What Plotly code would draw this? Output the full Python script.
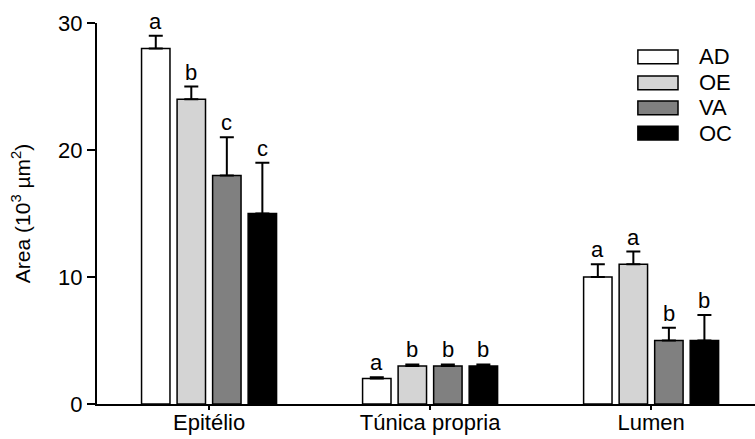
import plotly.graph_objects as go

categories = ["Epitélio", "Túnica propria", "Lumen"]
series = ["AD", "OE", "VA", "OC"]
colors = ["#ffffff", "#d4d4d4", "#808080", "#000000"]
values = {
    "AD": [28, 2, 10],
    "OE": [24, 3, 11],
    "VA": [18, 3, 5],
    "OC": [15, 3, 5],
}
errors = {
    "AD": [1, 0.1, 1],
    "OE": [1, 0.12, 1],
    "VA": [3, 0.12, 1],
    "OC": [4, 0.12, 2],
}
letters = {
    "AD": ["a", "a", "a"],
    "OE": ["b", "b", "a"],
    "VA": ["c", "b", "b"],
    "OC": ["c", "b", "b"],
}

FONT = "Liberation Sans, Arial, sans-serif"
bargap = 0.357
bargroupgap = 0.2

fig = go.Figure()
for s, c in zip(series, colors):
    fig.add_trace(go.Bar(
        x=categories, y=values[s], name=s,
        marker=dict(color=c, line=dict(color="black", width=1.5)),
        error_y=dict(type="data", array=errors[s], arrayminus=[0] * 3,
                     symmetric=False, color="black", thickness=2, width=7),
        showlegend=False,
    ))

# letters above error bars
groupw = 1 - bargap
slot = groupw / len(series)
ann = []
for i, s in enumerate(series):
    off = -groupw / 2 + (i + 0.5) * slot
    for j, cat in enumerate(categories):
        ann.append(dict(x=j + off, y=values[s][j] + errors[s][j], xref="x", yref="y",
                        text=letters[s][j], showarrow=False, yanchor="bottom", yshift=0,
                        font=dict(family=FONT, size=22, color="black")))

# custom legend
shapes = []
lx0, lx1 = 0.822, 0.883
ly = [0.911, 0.843, 0.777, 0.711]
for k, (s, c) in enumerate(zip(series, colors)):
    shapes.append(dict(type="rect", xref="paper", yref="paper",
                       x0=lx0, x1=lx1, y0=ly[k] - 0.018, y1=ly[k] + 0.018,
                       fillcolor=c, line=dict(color="black", width=1.5)))
    ann.append(dict(x=0.912, y=ly[k], xref="paper", yref="paper", text=s,
                    showarrow=False, xanchor="left", yanchor="middle",
                    font=dict(family=FONT, size=22, color="black")))

fig.update_layout(
    width=755, height=439,
    margin=dict(l=97, r=0, t=23, b=35),
    paper_bgcolor="white", plot_bgcolor="white",
    barmode="group", bargap=bargap, bargroupgap=bargroupgap,
    font=dict(family=FONT, size=16, color="black"),
    annotations=ann, shapes=shapes,
    xaxis=dict(type="category", range=[-0.507, 2.47], showline=True, linecolor="black",
               linewidth=2, ticks="outside", ticklen=4, tickwidth=1.5, tickcolor="black",
               tickfont=dict(family=FONT, size=22), showgrid=False, zeroline=False,
               automargin=False, ticklabelstandoff=-6),
    yaxis=dict(range=[0, 30], tickvals=[0, 10, 20, 30], showline=True, linecolor="black",
               linewidth=2, ticks="outside", ticklen=8, tickwidth=2, tickcolor="black",
               tickfont=dict(family=FONT, size=22), showgrid=False, zeroline=False,
               automargin=False,
               title=dict(text="Area (10<sup>3</sup> µm<sup>2</sup>)",
                          font=dict(family=FONT, size=21), standoff=22)),
)

fig.write_html("out.html", config={"displayModeBar": False},
               post_script="document.body.style.margin='0';document.body.style.overflow='hidden';")
